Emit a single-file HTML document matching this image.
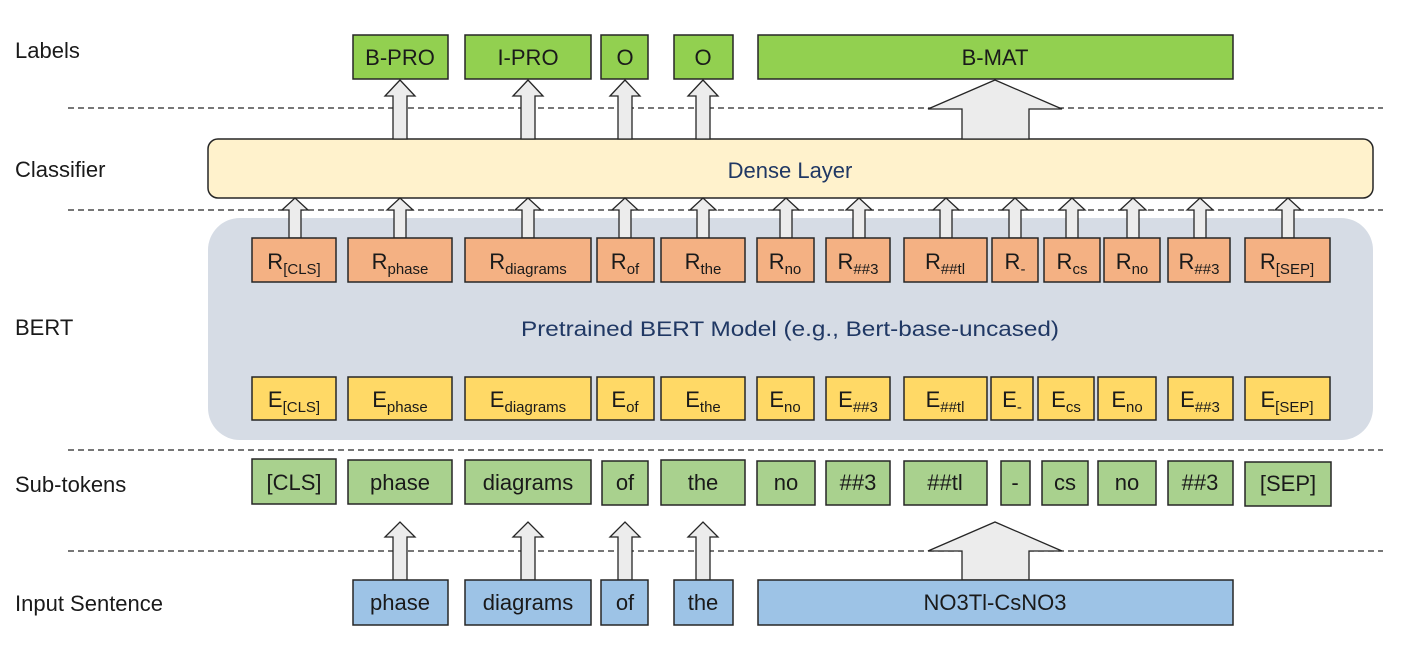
<!DOCTYPE html>
<html><head><meta charset="utf-8"><style>
html,body{margin:0;padding:0;background:#fff;}
svg{display:block;font-family:"Liberation Sans",sans-serif;}
.b{stroke:#262626;stroke-width:1.5;}
.t{font-size:22px;fill:#1a1a1a;text-anchor:middle;}
.s{font-size:15px;}
.l{font-size:22px;fill:#1a1a1a;}
.ar{fill:#ececec;stroke:#262626;stroke-width:1.3;}
</style></head><body>
<svg width="1401" height="656" viewBox="0 0 1401 656">
<g stroke="#262626" stroke-width="1.3" stroke-dasharray="6,4">
<line x1="68" y1="108" x2="1383" y2="108"/>
<line x1="68" y1="210" x2="1383" y2="210"/>
<line x1="68" y1="450" x2="1383" y2="450"/>
<line x1="68" y1="551" x2="1383" y2="551"/>
</g>
<text class="l" x="15" y="58">Labels</text>
<text class="l" x="15" y="177">Classifier</text>
<text class="l" x="15" y="335">BERT</text>
<text class="l" x="15" y="492">Sub-tokens</text>
<text class="l" x="15" y="611">Input Sentence</text>

<rect x="208" y="218" width="1165" height="222" rx="32" fill="#d6dce5"/>
<text x="790" y="336" font-size="21" fill="#203864" text-anchor="middle" textLength="538" lengthAdjust="spacingAndGlyphs">Pretrained BERT Model (e.g., Bert-base-uncased)</text>

<rect x="208" y="139" width="1165" height="59" rx="10" fill="#fff2cc" class="b"/>
<text x="790" y="178" font-size="22" fill="#203864" text-anchor="middle">Dense Layer</text>

<g fill="#92d050" class="b">
<rect x="353" y="35" width="95" height="44"/>
<rect x="465" y="35" width="126" height="44"/>
<rect x="601" y="35" width="47" height="44"/>
<rect x="674" y="35" width="59" height="44"/>
<rect x="758" y="35" width="475" height="44"/>
</g>
<g class="t">
<text x="400" y="65">B-PRO</text><text x="528" y="65">I-PRO</text><text x="625" y="65">O</text><text x="703" y="65">O</text><text x="995" y="65">B-MAT</text>
</g>

<g class="ar">
<path d="M393,139 V96 H385 L400,80 L415,96 H407 V139 Z"/>
<path d="M521,139 V96 H513 L528,80 L543,96 H535 V139 Z"/>
<path d="M618,139 V96 H610 L625,80 L640,96 H632 V139 Z"/>
<path d="M696,139 V96 H688 L703,80 L718,96 H710 V139 Z"/>
<path d="M962,139 V109 H928 L995,80 L1062,109 H1029 V139 Z"/>
</g>

<g class="ar">
<path d="M289,238 V210 H282 L295,198 L308,210 H301 V238 Z"/>
<path d="M394,238 V210 H387 L400,198 L413,210 H406 V238 Z"/>
<path d="M522,238 V210 H515 L528,198 L541,210 H534 V238 Z"/>
<path d="M619,238 V210 H612 L625,198 L638,210 H631 V238 Z"/>
<path d="M697,238 V210 H690 L703,198 L716,210 H709 V238 Z"/>
<path d="M780,238 V210 H773 L786,198 L799,210 H792 V238 Z"/>
<path d="M853,238 V210 H846 L859,198 L872,210 H865 V238 Z"/>
<path d="M940,238 V210 H933 L946,198 L959,210 H952 V238 Z"/>
<path d="M1009,238 V210 H1002 L1015,198 L1028,210 H1021 V238 Z"/>
<path d="M1066,238 V210 H1059 L1072,198 L1085,210 H1078 V238 Z"/>
<path d="M1127,238 V210 H1120 L1133,198 L1146,210 H1139 V238 Z"/>
<path d="M1194,238 V210 H1187 L1200,198 L1213,210 H1206 V238 Z"/>
<path d="M1282,238 V210 H1275 L1288,198 L1301,210 H1294 V238 Z"/>
</g>

<g fill="#f4b183" class="b">
<rect x="252" y="238" width="84" height="44"/>
<rect x="348" y="238" width="104" height="44"/>
<rect x="465" y="238" width="126" height="44"/>
<rect x="597" y="238" width="57" height="44"/>
<rect x="661" y="238" width="84" height="44"/>
<rect x="757" y="238" width="57" height="44"/>
<rect x="826" y="238" width="64" height="44"/>
<rect x="904" y="238" width="83" height="44"/>
<rect x="992" y="238" width="46" height="44"/>
<rect x="1044" y="238" width="56" height="44"/>
<rect x="1104" y="238" width="56" height="44"/>
<rect x="1168" y="238" width="62" height="44"/>
<rect x="1245" y="238" width="85" height="44"/>
</g>
<g class="t">
<text x="294" y="269">R<tspan class="s" dy="5">[CLS]</tspan></text>
<text x="400" y="269">R<tspan class="s" dy="5">phase</tspan></text>
<text x="528" y="269">R<tspan class="s" dy="5">diagrams</tspan></text>
<text x="625" y="269">R<tspan class="s" dy="5">of</tspan></text>
<text x="703" y="269">R<tspan class="s" dy="5">the</tspan></text>
<text x="785" y="269">R<tspan class="s" dy="5">no</tspan></text>
<text x="858" y="269">R<tspan class="s" dy="5">##3</tspan></text>
<text x="945" y="269">R<tspan class="s" dy="5">##tl</tspan></text>
<text x="1015" y="269">R<tspan class="s" dy="5">-</tspan></text>
<text x="1072" y="269">R<tspan class="s" dy="5">cs</tspan></text>
<text x="1132" y="269">R<tspan class="s" dy="5">no</tspan></text>
<text x="1199" y="269">R<tspan class="s" dy="5">##3</tspan></text>
<text x="1287" y="269">R<tspan class="s" dy="5">[SEP]</tspan></text>
</g>

<g fill="#ffd966" class="b">
<rect x="252" y="377" width="84" height="43"/>
<rect x="348" y="377" width="104" height="43"/>
<rect x="465" y="377" width="126" height="43"/>
<rect x="597" y="377" width="57" height="43"/>
<rect x="661" y="377" width="84" height="43"/>
<rect x="757" y="377" width="57" height="43"/>
<rect x="826" y="377" width="64" height="43"/>
<rect x="904" y="377" width="83" height="43"/>
<rect x="991" y="377" width="42" height="43"/>
<rect x="1038" y="377" width="56" height="43"/>
<rect x="1098" y="377" width="58" height="43"/>
<rect x="1168" y="377" width="65" height="43"/>
<rect x="1245" y="377" width="85" height="43"/>
</g>
<g class="t">
<text x="294" y="407">E<tspan class="s" dy="5">[CLS]</tspan></text>
<text x="400" y="407">E<tspan class="s" dy="5">phase</tspan></text>
<text x="528" y="407">E<tspan class="s" dy="5">diagrams</tspan></text>
<text x="625" y="407">E<tspan class="s" dy="5">of</tspan></text>
<text x="703" y="407">E<tspan class="s" dy="5">the</tspan></text>
<text x="785" y="407">E<tspan class="s" dy="5">no</tspan></text>
<text x="858" y="407">E<tspan class="s" dy="5">##3</tspan></text>
<text x="945" y="407">E<tspan class="s" dy="5">##tl</tspan></text>
<text x="1012" y="407">E<tspan class="s" dy="5">-</tspan></text>
<text x="1066" y="407">E<tspan class="s" dy="5">cs</tspan></text>
<text x="1127" y="407">E<tspan class="s" dy="5">no</tspan></text>
<text x="1200" y="407">E<tspan class="s" dy="5">##3</tspan></text>
<text x="1287" y="407">E<tspan class="s" dy="5">[SEP]</tspan></text>
</g>

<g fill="#a9d18e" class="b">
<rect x="252" y="459" width="84" height="45"/>
<rect x="348" y="460" width="104" height="44"/>
<rect x="465" y="460" width="126" height="44"/>
<rect x="602" y="461" width="46" height="44"/>
<rect x="661" y="460" width="84" height="45"/>
<rect x="757" y="461" width="58" height="44"/>
<rect x="826" y="461" width="64" height="44"/>
<rect x="904" y="461" width="83" height="44"/>
<rect x="1001" y="461" width="29" height="44"/>
<rect x="1042" y="461" width="46" height="44"/>
<rect x="1098" y="461" width="58" height="44"/>
<rect x="1168" y="461" width="65" height="44"/>
<rect x="1245" y="462" width="86" height="44"/>
</g>
<g class="t">
<text x="294" y="490">[CLS]</text>
<text x="400" y="490">phase</text>
<text x="528" y="490">diagrams</text>
<text x="625" y="490">of</text>
<text x="703" y="490">the</text>
<text x="786" y="490">no</text>
<text x="858" y="490">##3</text>
<text x="945" y="490">##tl</text>
<text x="1015" y="490">-</text>
<text x="1065" y="490">cs</text>
<text x="1127" y="490">no</text>
<text x="1200" y="490">##3</text>
<text x="1288" y="491">[SEP]</text>
</g>

<g class="ar">
<path d="M393,580 V537 H385 L400,522 L415,537 H407 V580 Z"/>
<path d="M521,580 V537 H513 L528,522 L543,537 H535 V580 Z"/>
<path d="M618,580 V537 H610 L625,522 L640,537 H632 V580 Z"/>
<path d="M696,580 V537 H688 L703,522 L718,537 H710 V580 Z"/>
<path d="M962,580 V551 H928 L995,522 L1062,551 H1029 V580 Z"/>
</g>

<g fill="#9dc3e6" class="b">
<rect x="353" y="580" width="95" height="45"/>
<rect x="465" y="580" width="126" height="45"/>
<rect x="601" y="580" width="47" height="45"/>
<rect x="674" y="580" width="59" height="45"/>
<rect x="758" y="580" width="475" height="45"/>
</g>
<g class="t">
<text x="400" y="610">phase</text><text x="528" y="610">diagrams</text><text x="625" y="610">of</text><text x="703" y="610">the</text><text x="995" y="610">NO3Tl-CsNO3</text>
</g>
</svg>
</body></html>
